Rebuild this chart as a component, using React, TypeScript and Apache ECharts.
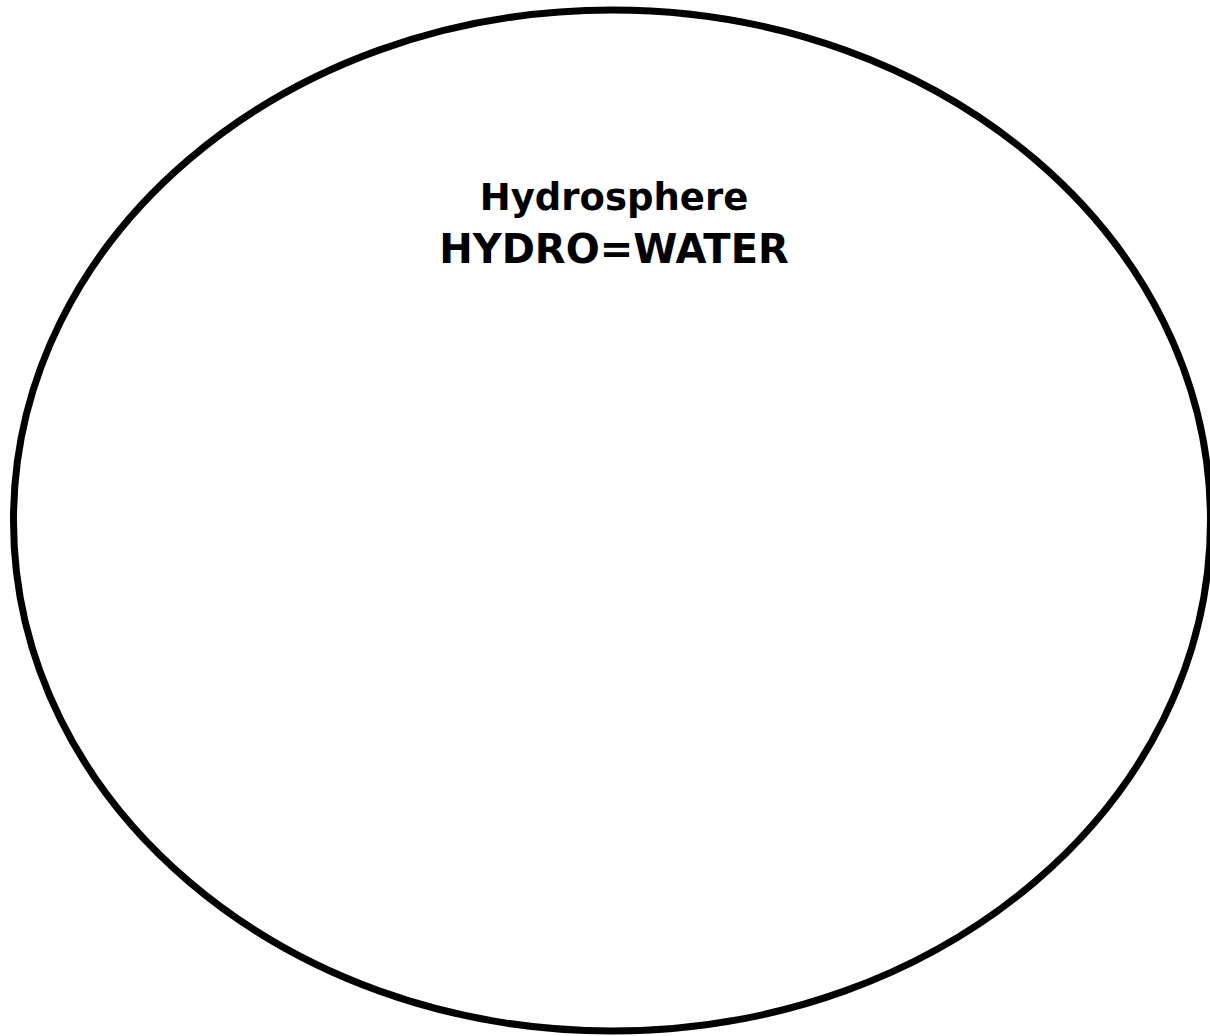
import React, { useEffect, useRef } from "react";
import * as echarts from "echarts";

const titleLines: string[] = ["Hydrosphere", "HYDRO=WATER"];
const lineCentersY: number[] = [197, 249];
const lineFontSizes: number[] = [37, 40];

export default function App() {
  const ref = useRef<HTMLDivElement>(null);
  useEffect(() => {
    if (!ref.current) return;
    const chart = echarts.init(ref.current, null, { renderer: "svg" });
    const elements: any[] = [
      {
        type: "ellipse",
        shape: { cx: 612, cy: 520.5, rx: 598.5, ry: 510.5 },
        style: { fill: "#ffffff", stroke: "#000000", lineWidth: 7 },
      },
    ];
    titleLines.forEach((t, i) => {
      elements.push({
        type: "text",
        x: 614,
        y: lineCentersY[i],
        style: {
          text: t,
          fill: "#000000",
          font: `bold ${lineFontSizes[i]}px 'DejaVu Sans', Verdana, sans-serif`,
          align: "center",
          verticalAlign: "middle",
        },
      });
    });
    chart.setOption({
      animation: false,
      backgroundColor: "#ffffff",
      graphic: { elements },
    });
    return () => chart.dispose();
  }, []);
  return (
    <div
      ref={ref}
      style={{ position: "fixed", left: 0, top: 0, width: 1210, height: 1036 }}
    />
  );
}
